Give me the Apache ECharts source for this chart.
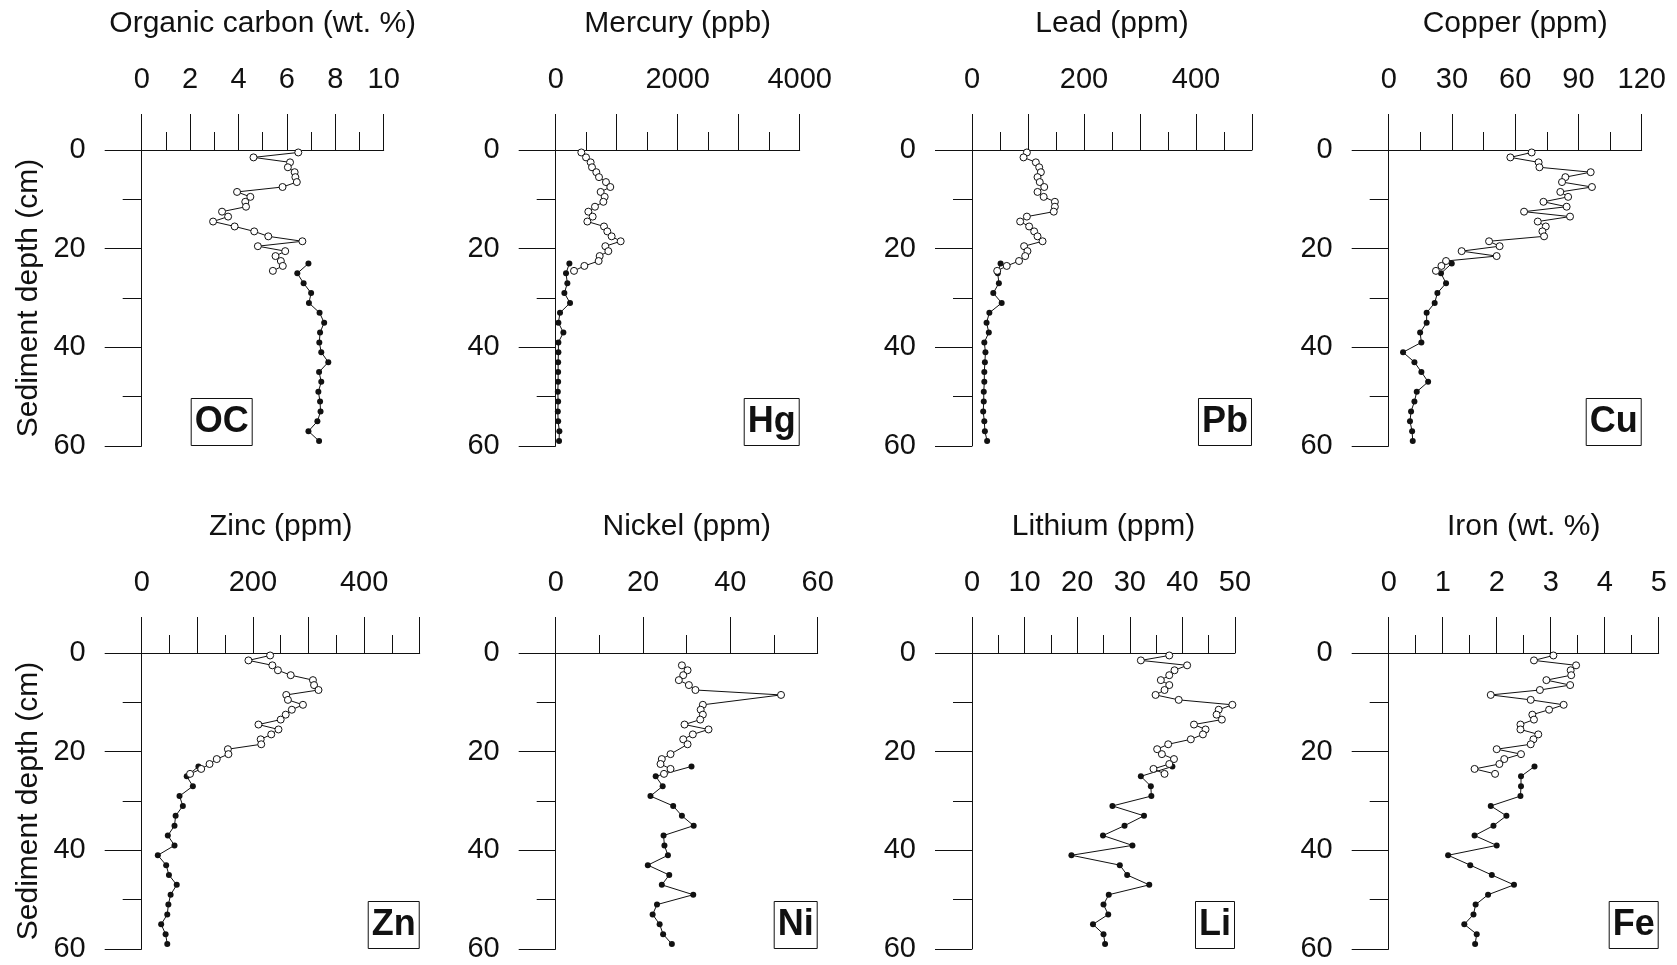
<!DOCTYPE html>
<html>
<head>
<meta charset="utf-8">
<script src="https://cdn.jsdelivr.net/npm/echarts@6/dist/echarts.min.js"></script>
<style>
html,body{margin:0;padding:0;background:#fff;}
#chart{width:1677px;height:965px;}
</style>
</head>
<body>
<div id="chart"></div>
<script>
// ---- data ----
const depthOpen = [0.5,1.5,2.5,3.5,4.5,5.5,6.5,7.5,8.5,9.5,10.5,11.5,12.5,13.5,14.5,15.5,16.5,17.5,18.5,19.5,20.5,21.5,22.5,23.5,24.5];
const depthFilled = [23,25,27,29,31,33,35,37,39,41,43,45,47,49,51,53,55,57,59];

const ocOpen = [6.47,4.62,6.13,6.04,6.32,6.35,6.41,5.82,3.94,4.49,4.28,4.31,3.32,3.57,2.95,3.84,4.65,5.23,6.64,4.80,5.93,5.53,5.75,5.83,5.42];
const ocFilled = [6.89,6.43,6.69,7.00,6.91,7.35,7.54,7.37,7.34,7.42,7.71,7.33,7.42,7.30,7.37,7.39,7.26,6.89,7.33];

const hgOpen = [420,497,573,595,666,710,824,895,737,803,781,644,535,606,519,792,846,917,1065,814,863,721,704,470,300];
const hgFilled = [224,169,191,142,235,71,44,126,44,44,40,40,40,35,40,35,40,60,55];

const pbOpen = [98,92,114,120,123,117,121,129,117,128,148,148,146,98,86,102,111,117,126,93,99,95,84,62,45];
const pbFilled = [51,46,48,38,53,31,26,30,22,24,23,22,22,21,21,20,22,23,27];

const cuOpen = [67.8,57.7,71.1,71.5,95.8,83.8,82.2,96.4,81.4,85.1,73.4,84.4,64.2,86.0,70.7,74.5,72.9,73.7,47.6,52.6,34.6,51.2,27.2,25.0,22.4];
const cuFilled = [29.9,24.8,27.2,23.1,21.8,18.0,18.0,14.9,15.5,6.8,12.2,15.5,18.7,13.3,12.2,10.6,10.1,11.1,11.4];

const znOpen = [231,192,235,245,268,308,310,318,260,263,290,270,259,250,210,246,233,214,215,155,156,135,122,107,87];
const znFilled = [102,81,92,68,74,61,59,47,59,29,44,49,63,52,48,46,35,43,46];

const niOpen = [null,null,28.9,30.2,29.2,28.2,30.5,32.0,51.6,null,33.7,33.2,33.7,33.1,29.5,35.0,31.4,29.2,30.2,null,26.3,24.3,24.0,26.3,24.8];
const niFilled = [31.1,22.9,24.5,21.7,26.9,28.9,31.6,24.7,24.9,25.7,21.1,26.0,24.3,31.5,23.2,22.2,23.8,24.6,26.6];

const liOpen = [37.5,32.1,40.9,38.5,37.5,35.9,37.5,36.6,34.9,39.3,49.5,46.9,46.5,47.5,42.2,44.4,43.9,41.6,37.3,35.2,36.1,38.4,37.5,34.5,36.6];
const liFilled = [38.1,32.1,34.0,34.1,26.7,32.7,29.0,24.9,30.5,18.9,28.1,29.5,33.7,26.0,25.0,25.9,23.0,25.0,25.3];

const feOpen = [3.05,2.69,3.47,3.37,3.38,2.92,3.36,2.80,1.89,2.63,3.24,2.97,2.66,2.69,2.44,2.44,2.77,2.68,2.63,2.00,2.45,2.14,2.05,1.59,1.97];
const feFilled = [2.70,2.45,2.45,2.44,1.89,2.18,1.94,1.59,2.00,1.10,1.51,1.91,2.32,1.84,1.61,1.57,1.40,1.63,1.60];

const titles = ['Organic carbon (wt. %)','Mercury (ppb)','Lead (ppm)','Copper (ppm)','Zinc (ppm)','Nickel (ppm)','Lithium (ppm)','Iron (wt. %)'];
const tags = ['OC','Hg','Pb','Cu','Zn','Ni','Li','Fe'];
const xMax = [10,4000,500,120,500,60,50,5];
const xInterval = [2,1000,100,30,100,20,10,1];
const xLabelStep = [2,2000,200,30,200,20,10,1];
const depthTicks = [0,20,40,60];
const opens = [ocOpen,hgOpen,pbOpen,cuOpen,znOpen,niOpen,liOpen,feOpen];
const filleds = [ocFilled,hgFilled,pbFilled,cuFilled,znFilled,niFilled,liFilled,feFilled];

// ---- layout (styles) ----
const W = 1677, H = 965;
const colLeft = [141.7,555.7,972,1388.7];
const widths = [242,244,280,253,278,262,263,270];
const rowTop = [150,653];
const gridH = 296;
const FONT = "'Liberation Sans', Arial, Helvetica, sans-serif";

const grid = [], xAxis = [], yAxis = [], series = [], title = [];
for (let i = 0; i < 8; i++) {
  const r = Math.floor(i / 4), c = i % 4;
  const left = colLeft[c], top = rowTop[r], w = widths[i];
  grid.push({left: left, top: top, width: w, height: gridH, containLabel: false});
  const step = xLabelStep[i];
  xAxis.push({
    gridIndex: i, type: 'value', position: 'top', min: 0, max: xMax[i], interval: xInterval[i],
    name: titles[i], nameLocation: 'middle', nameGap: 111,
    nameTextStyle: {fontFamily: FONT, fontSize: 30, color: '#111'},
    axisLine: {show: true, onZero: false, lineStyle: {color: '#111', width: 1}},
    axisTick: {show: true, inside: false, length: 36, lineStyle: {color: '#111', width: 1}},
    minorTick: {show: true, splitNumber: 2, length: 18, lineStyle: {color: '#111', width: 1}},
    splitLine: {show: false}, minorSplitLine: {show: false},
    axisLabel: {
      show: true, margin: 56, fontFamily: FONT, fontSize: 29, color: '#111',
      showMinLabel: true, showMaxLabel: true, hideOverlap: false,
      formatter: function (v) { return (Math.abs(v / step - Math.round(v / step)) < 1e-9) ? String(v) : ''; }
    }
  });
  yAxis.push({
    gridIndex: i, type: 'value', inverse: true, min: 0, max: 60, interval: 20,
    name: c === 0 ? 'Sediment depth (cm)' : '', nameLocation: 'middle', nameGap: 98,
    nameTextStyle: {fontFamily: FONT, fontSize: 30, color: '#111'},
    axisLine: {show: true, onZero: false, lineStyle: {color: '#111', width: 1}},
    axisTick: {show: true, inside: false, length: 37, lineStyle: {color: '#111', width: 1}},
    minorTick: {show: true, splitNumber: 2, length: 19, lineStyle: {color: '#111', width: 1}},
    splitLine: {show: false}, minorSplitLine: {show: false},
    axisLabel: {show: true, margin: 56, fontFamily: FONT, fontSize: 29, color: '#111',
      showMinLabel: true, showMaxLabel: true,
      formatter: function (v) { return depthTicks.indexOf(v) >= 0 ? String(v) : ''; }}
  });
  const fData = filleds[i].map((v, k) => [v, depthFilled[k]]);
  const oData = [];
  opens[i].forEach((v, k) => { if (v !== null) oData.push([v, depthOpen[k]]); });
  series.push({
    type: 'line', xAxisIndex: i, yAxisIndex: i, data: fData, symbol: 'circle', symbolSize: 6,
    lineStyle: {color: '#111', width: 1}, itemStyle: {color: '#111'}, silent: true, animation: false, z: 2
  });
  series.push({
    type: 'line', xAxisIndex: i, yAxisIndex: i, data: oData, symbol: 'circle', symbolSize: 7,
    lineStyle: {color: '#111', width: 1}, itemStyle: {color: '#fff', borderColor: '#111', borderWidth: 1},
    silent: true, animation: false, z: 3
  });
  const tagPos = (i === 0)
    ? {left: 190.7, bottom: H - (top + gridH)}
    : {right: W - (left + w), bottom: H - (top + gridH)};
  title.push(Object.assign({
    text: tags[i], padding: [6, 4, 6, 4], borderColor: '#111', borderWidth: 1,
    textStyle: {fontFamily: FONT, fontSize: 36, fontWeight: 'bold', color: '#111', lineHeight: 36}
  }, tagPos));
}

const chart = echarts.init(document.getElementById('chart'), null, {renderer: 'canvas'});
chart.setOption({
  backgroundColor: '#fff', animation: false,
  title: title, grid: grid, xAxis: xAxis, yAxis: yAxis, series: series, tooltip: {show: false}
});
</script>
</body>
</html>
